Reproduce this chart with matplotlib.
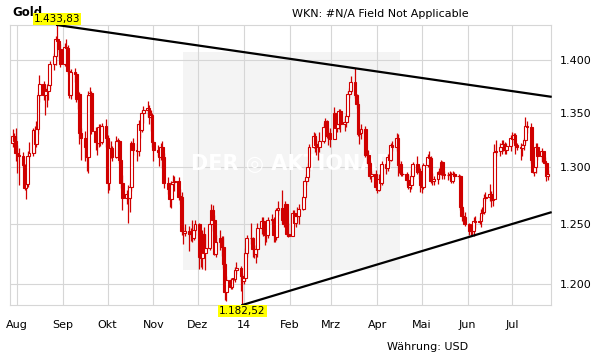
import numpy as np
import pandas as pd
import matplotlib
matplotlib.use('Agg')
import matplotlib.pyplot as plt
import matplotlib.dates as mdates
from matplotlib.patches import Rectangle
from matplotlib.ticker import FixedLocator, FuncFormatter, NullLocator

# daily gold prices (USD), one row per week Mon..Fri, starting Mon 29.07.2013
close = [
    [1328, 1324, 1313, 1311, 1310],
    [1302, 1282, 1285, 1310, 1313],
    [1334, 1321, 1335, 1366, 1377],
    [1366, 1372, 1370, 1376, 1396],
    [1404, 1420, 1418, 1410, 1396],
    [1412, 1411, 1389, 1366, 1388],
    [1386, 1363, 1367, 1331, 1327],
    [1318, 1309, 1366, 1368, 1333],
    [1323, 1322, 1337, 1323, 1338],
    [1327, 1286, 1317, 1317, 1309],
    [1324, 1324, 1307, 1286, 1273],
    [1276, 1273, 1283, 1322, 1316],
    [1315, 1339, 1334, 1350, 1352],
    [1354, 1346, 1348, 1323, 1316],
    [1314, 1309, 1318, 1309, 1286],
    [1281, 1272, 1285, 1287, 1288],
    [1274, 1274, 1244, 1243, 1244],
    [1242, 1242, 1238, 1245, 1250],
    [1222, 1221, 1242, 1226, 1230],
    [1250, 1262, 1254, 1225, 1235],
    [1238, 1231, 1216, 1193, 1203],
    [1197, 1204, 1204, 1211, 1213],
    [1206, 1202, 1205, 1226, 1238],
    [1238, 1229, 1225, 1229, 1247],
    [1253, 1245, 1241, 1241, 1254],
    [1254, 1241, 1239, 1262, 1264],
    [1254, 1250, 1268, 1242, 1240],
    [1260, 1251, 1257, 1257, 1263],
    [1274, 1288, 1291, 1300, 1318],
    [1328, 1320, 1321, 1318, 1324],
    [1337, 1342, 1328, 1331, 1326],
    [1350, 1336, 1339, 1351, 1339],
    [1341, 1347, 1367, 1370, 1379],
    [1366, 1358, 1330, 1331, 1335],
    [1311, 1311, 1304, 1292, 1294],
    [1283, 1280, 1290, 1286, 1303],
    [1299, 1309, 1307, 1320, 1318],
    [1327, 1302, 1303, 1294, 1294],
    [1289, 1283, 1284, 1292, 1303],
    [1296, 1297, 1284, 1283, 1302],
    [1309, 1308, 1288, 1288, 1290],
    [1296, 1294, 1305, 1294, 1293],
    [1293, 1294, 1288, 1294, 1292],
    [1292, 1265, 1257, 1256, 1250],
    [1244, 1244, 1244, 1253, 1252],
    [1253, 1260, 1261, 1273, 1274],
    [1276, 1271, 1272, 1314, 1315],
    [1318, 1321, 1321, 1316, 1319],
    [1327, 1326, 1329, 1320, 1318],
    [1317, 1320, 1325, 1338, 1337],
    [1307, 1296, 1300, 1318, 1310],
    [1315, 1306, 1304, 1292, 1294],
]
high = [
    [1335, 1331, 1336, 1320, 1317],
    [1314, 1303, 1290, 1315, 1323],
    [1336, 1338, 1342, 1369, 1385],
    [1380, 1374, 1377, 1378, 1399],
    [1406, 1423, 1433.83, 1418, 1415],
    [1416, 1420, 1414, 1391, 1391],
    [1392, 1388, 1370, 1369, 1336],
    [1333, 1320, 1370, 1374, 1370],
    [1337, 1324, 1339, 1339, 1340],
    [1344, 1329, 1325, 1324, 1319],
    [1328, 1327, 1325, 1307, 1293],
    [1280, 1284, 1286, 1324, 1327],
    [1322, 1343, 1341, 1352, 1356],
    [1361, 1357, 1352, 1350, 1325],
    [1320, 1317, 1322, 1324, 1313],
    [1291, 1284, 1288, 1293, 1292],
    [1291, 1281, 1278, 1248, 1250],
    [1249, 1247, 1254, 1249, 1254],
    [1251, 1241, 1245, 1248, 1242],
    [1252, 1268, 1267, 1258, 1241],
    [1245, 1240, 1240, 1217, 1206],
    [1205, 1205, 1205, 1214, 1218],
    [1215, 1209, 1207, 1230, 1241],
    [1251, 1239, 1232, 1232, 1251],
    [1256, 1256, 1248, 1244, 1256],
    [1259, 1256, 1246, 1264, 1270],
    [1280, 1258, 1270, 1268, 1251],
    [1262, 1262, 1260, 1265, 1268],
    [1275, 1290, 1294, 1304, 1321],
    [1332, 1331, 1326, 1323, 1332],
    [1340, 1345, 1343, 1333, 1336],
    [1355, 1350, 1342, 1353, 1353],
    [1345, 1350, 1370, 1373, 1384],
    [1392, 1367, 1361, 1336, 1339],
    [1338, 1316, 1316, 1306, 1297],
    [1298, 1288, 1294, 1292, 1306],
    [1305, 1312, 1313, 1322, 1324],
    [1331, 1330, 1307, 1306, 1296],
    [1296, 1294, 1287, 1298, 1305],
    [1310, 1301, 1299, 1290, 1304],
    [1312, 1315, 1310, 1295, 1292],
    [1297, 1299, 1307, 1306, 1297],
    [1296, 1297, 1296, 1297, 1296],
    [1294, 1293, 1266, 1262, 1261],
    [1251, 1248, 1247, 1256, 1257],
    [1256, 1263, 1265, 1276, 1278],
    [1285, 1279, 1275, 1321, 1325],
    [1322, 1325, 1325, 1323, 1322],
    [1329, 1332, 1331, 1331, 1322],
    [1322, 1321, 1327, 1346, 1342],
    [1340, 1311, 1303, 1322, 1322],
    [1317, 1315, 1309, 1305, 1298],
]
low = [
    [1318, 1319, 1306, 1295, 1284],
    [1300, 1280, 1272, 1283, 1308],
    [1310, 1313, 1318, 1330, 1360],
    [1362, 1348, 1355, 1362, 1372],
    [1390, 1395, 1407, 1402, 1393],
    [1394, 1393, 1386, 1364, 1363],
    [1379, 1360, 1353, 1321, 1307],
    [1306, 1297, 1295, 1355, 1330],
    [1316, 1311, 1318, 1319, 1321],
    [1318, 1277, 1280, 1308, 1306],
    [1308, 1314, 1304, 1282, 1262],
    [1268, 1251, 1261, 1279, 1311],
    [1306, 1310, 1327, 1332, 1340],
    [1346, 1339, 1333, 1318, 1306],
    [1310, 1301, 1307, 1299, 1282],
    [1276, 1265, 1264, 1280, 1279],
    [1271, 1268, 1241, 1233, 1240],
    [1227, 1236, 1235, 1237, 1241],
    [1212, 1214, 1212, 1223, 1211],
    [1228, 1244, 1250, 1224, 1222],
    [1228, 1223, 1213, 1187, 1186],
    [1196, 1196, 1203, 1201, 1208],
    [1194, 1182.52, 1200, 1202, 1222],
    [1233, 1222, 1221, 1217, 1222],
    [1242, 1240, 1232, 1235, 1238],
    [1250, 1235, 1235, 1237, 1258],
    [1251, 1248, 1250, 1240, 1239],
    [1240, 1249, 1248, 1252, 1250],
    [1262, 1272, 1284, 1288, 1297],
    [1317, 1314, 1311, 1307, 1314],
    [1322, 1335, 1327, 1320, 1318],
    [1327, 1333, 1332, 1335, 1332],
    [1333, 1337, 1345, 1364, 1368],
    [1364, 1354, 1328, 1321, 1326],
    [1309, 1304, 1302, 1290, 1287],
    [1280, 1277, 1279, 1282, 1284],
    [1294, 1297, 1303, 1306, 1315],
    [1315, 1292, 1295, 1292, 1292],
    [1284, 1281, 1278, 1281, 1290],
    [1294, 1290, 1278, 1277, 1281],
    [1300, 1304, 1286, 1284, 1284],
    [1285, 1290, 1293, 1290, 1290],
    [1289, 1290, 1286, 1286, 1290],
    [1290, 1262, 1253, 1252, 1249],
    [1241, 1240, 1241, 1240, 1247],
    [1250, 1248, 1257, 1259, 1270],
    [1270, 1265, 1266, 1272, 1310],
    [1310, 1312, 1315, 1312, 1312],
    [1315, 1322, 1322, 1312, 1316],
    [1307, 1310, 1316, 1322, 1331],
    [1304, 1295, 1292, 1295, 1307],
    [1305, 1305, 1302, 1288, 1289],
]
prev_close = 1322   # Fr 26.07.2013

# hand drawn trendlines (date, value)
top_line = [('2013-08-28', 1433.83), ('2014-07-27', 1364.8)]
bot_line = [('2013-12-31', 1182.52), ('2014-07-27', 1260.3)]

yticks = [1200, 1250, 1300, 1350, 1400]
month_starts = ['2013-08-01', '2013-09-01', '2013-10-01', '2013-11-01', '2013-12-01',
                '2014-01-01', '2014-02-01', '2014-03-01', '2014-04-01', '2014-05-01',
                '2014-06-01', '2014-07-01']
month_labels = ['Aug', 'Sep', 'Okt', 'Nov', 'Dez', '14', 'Feb', 'Mrz', 'Apr', 'Mai', 'Jun', 'Jul']

c = np.array(close, dtype=float).ravel()
h = np.array(high, dtype=float).ravel()
l = np.array(low, dtype=float).ravel()
o = np.r_[prev_close, c[:-1]]
dates = pd.bdate_range('2013-07-29', periods=len(c))
x = mdates.date2num(dates.to_pydatetime())

red = '#d00000'
grid = '#d6d6d6'

fig = plt.figure(figsize=(6.11, 3.64), dpi=100)
ax = fig.add_axes([10/611, 59/364, 541/611, 280/364])
ax.set_yscale('log')

# watermark
ax.add_patch(Rectangle((0.32, 0.125), 0.401, 0.78, transform=ax.transAxes,
                       facecolor='#f4f4f4', edgecolor='none', zorder=0))
ax.text(0.52, 0.51, 'DER \u25CE AKTIONÄR', transform=ax.transAxes, ha='center', va='center',
        fontsize=15, fontweight='bold', color='white', zorder=1)

# candles
w = 1.9
ax.vlines(x, np.minimum(l, np.minimum(o, c)), np.maximum(h, np.maximum(o, c)),
          color=red, lw=0.9, zorder=3)
for xi, oi, ci in zip(x, o, c):
    lo_, hi_ = min(oi, ci), max(oi, ci)
    if hi_ - lo_ < 0.5:
        hi_ = lo_ + 0.5
    ax.add_patch(Rectangle((xi - w/2, lo_), w, hi_ - lo_,
                           facecolor=(red if ci < oi else 'white'),
                           edgecolor=red, lw=0.8, zorder=4))

for line in (top_line, bot_line):
    lx = [mdates.datestr2num(d) for d, _ in line]
    ly = [v for _, v in line]
    ax.plot(lx, ly, color='black', lw=1.6, zorder=5, clip_on=False)

ax.set_xlim(mdates.datestr2num('2013-07-27 04:00'), mdates.datestr2num('2014-07-27 06:00'))
ax.set_ylim(1182.52, 1433.83)

ax.yaxis.set_major_locator(FixedLocator(yticks))
ax.yaxis.set_minor_locator(NullLocator())
ax.yaxis.set_major_formatter(FuncFormatter(lambda v, p: f'{v:,.0f}'.replace(',', '.')))
ax.yaxis.tick_right()
ax.xaxis.set_major_locator(FixedLocator([mdates.datestr2num(d) for d in month_starts]))
ax.set_xticklabels(month_labels)
ax.tick_params(axis='both', length=0, labelsize=8, colors='black')
ax.tick_params(axis='x', pad=11)
ax.tick_params(axis='y', pad=6)
ax.grid(True, color=grid, lw=0.8)
ax.set_axisbelow(True)
for s in ax.spines.values():
    s.set_color(grid)
    s.set_linewidth(0.8)

# min / max labels
ax.annotate('1.433,83', (mdates.datestr2num('2013-08-28'), 1433.83), xytext=(0, 1),
            textcoords='offset points', ha='center', va='bottom', fontsize=7.5,
            bbox=dict(boxstyle='square,pad=0.1', fc='#ffff00', ec='none'), zorder=6,
            annotation_clip=False)
ax.annotate('1.182,52', (mdates.datestr2num('2013-12-31'), 1182.52), xytext=(0, -1),
            textcoords='offset points', ha='center', va='top', fontsize=7.5,
            bbox=dict(boxstyle='square,pad=0.1', fc='#ffff00', ec='none'), zorder=6,
            annotation_clip=False)

# title sits under the yellow max label, as in the original
fig.text(12/611, 1 - 13/364, 'Gold', fontsize=8.5, fontweight='bold', va='center', ha='left',
         zorder=-1)
fig.text(292/611, 1 - 14/364, 'WKN: #N/A Field Not Applicable', fontsize=8, va='center', ha='left')
fig.text(468/611, 1 - 347/364, 'Währung: USD', fontsize=8, va='center', ha='right')

fig.savefig('out.png', dpi=100, facecolor='white')
